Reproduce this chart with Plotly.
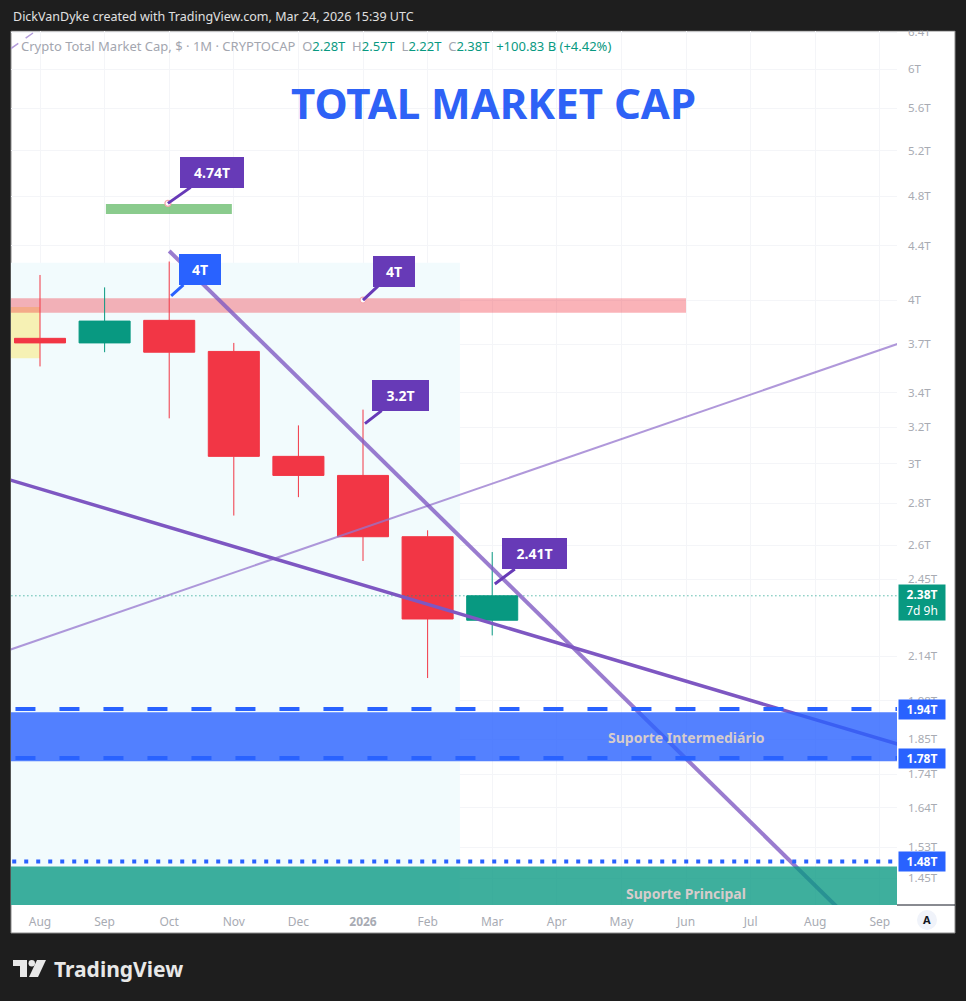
import math
import plotly.graph_objects as go

# monthly candles Aug 2025 .. Mar 2026, in trillions of USD
months = ['Aug', 'Sep', 'Oct', 'Nov', 'Dec', '2026', 'Feb', 'Mar', 'Apr', 'May', 'Jun', 'Jul', 'Aug', 'Sep']
opens = [3.74, 3.71, 3.86, 3.655, 3.04, 2.94, 2.64, 2.28]
highs = [4.18, 4.09, 4.28, 3.71, 3.21, 3.30, 2.67, 2.57]
lows = [3.56, 3.65, 3.25, 2.74, 2.83, 2.53, 2.06, 2.22]
closes = [3.71, 3.855, 3.65, 3.04, 2.94, 2.64, 2.285, 2.38]

price_ticks = [6.4, 6, 5.6, 5.2, 4.8, 4.4, 4, 3.7, 3.4, 3.2, 3, 2.8, 2.6, 2.45, 2.14, 1.98, 1.85, 1.74, 1.64, 1.53, 1.45]
price_labels = [f'{v:g}T' for v in price_ticks]

# trend lines drawn on the chart: (bar index, price)
steep_line_x = [2, 13]
steep_line_y = [4.36, 1.28]
rising_line_x = [-1, 14]
rising_line_y = [2.12, 3.81]
falling_line_x = [-1, 14]
falling_line_y = [2.97, 1.79]

# zones (bar index from/to, price from/to)
shade_zone = [-1, 6.5, 1.2, 4.27]
yellow_zone = [-1, 0, 3.612, 3.951]
resist_zone = [-1, 10, 3.911, 4.012]
ath_zone = [1.02, 2.97, 4.652, 4.734]
mid_support = [-1, 14, 1.78, 1.94]
mid_support_lines = [1.951, 1.79]
main_support = [-1, 14, 1.30, 1.48]
main_support_line = 1.493
last_price = 2.38

# callouts: (bar index, price, text, colour, box offset x/y, box width)
callouts = [
    (1.98, 4.74, '4.74T', '#673ab7', 44, -31, 52),
    (2.03, 4.03, '4T', '#2962ff', 29, -26, 30),
    (5.0, 4.0, '4T', '#673ab7', 31, -29, 30),
    (5.03, 3.22, '3.2T', '#673ab7', 36, -28, 45),
    (7.04, 2.43, '2.41T', '#673ab7', 40, -30, 53),
]
axis_tags = [(1.951, '1.94T'), (1.79, '1.78T'), (1.493, '1.48T')]

L = math.log10
W, H = 966, 1001
PL, PR, PT, PB = 11, 897, 31, 905


def px(x):
    return (x - PL) / (PR - PL)


def py(y):
    return (PB - y) / (PB - PT)


RED = '#f23645'
TEAL = '#089981'
DARK = '#1e1e1e'
FONT = 'Noto Sans'

fig = go.Figure()


def zone_bar(z, color):
    # rectangle below the candles, drawn as a floating bar
    fig.add_trace(go.Bar(x=[(z[0] + z[1]) / 2], width=[z[1] - z[0]], base=[z[2]], y=[z[3] - z[2]],
                         marker=dict(color=color, line=dict(width=0)), hoverinfo='skip', showlegend=False))


def zone_fill(z, color):
    # rectangle above the drawings
    fig.add_trace(go.Scatter(x=[z[0], z[1], z[1], z[0], z[0]], y=[z[2], z[2], z[3], z[3], z[2]],
                             mode='lines', fill='toself', fillcolor=color, line=dict(width=0),
                             hoverinfo='skip', showlegend=False))


def hline(v, color, width, dash, x0=-0.42, x1=14):
    fig.add_trace(go.Scatter(x=[x0, x1], y=[v, v], mode='lines', line=dict(color=color, width=width, dash=dash),
                             hoverinfo='skip', showlegend=False))


zone_bar(shade_zone, '#f2fbfd')
zone_bar(yellow_zone, '#f6f1b4')
zone_bar(resist_zone, 'rgba(242,54,69,0.38)')
zone_bar(ath_zone, 'rgba(76,175,80,0.65)')

fig.add_trace(go.Candlestick(
    x=list(range(len(opens))), open=opens, high=highs, low=lows, close=closes,
    increasing=dict(line=dict(color=TEAL, width=1), fillcolor=TEAL),
    decreasing=dict(line=dict(color=RED, width=1), fillcolor=RED),
    whiskerwidth=0, showlegend=False, hoverinfo='skip'))

hline(last_price, TEAL, 1, '1px,3px', x0=-1)
fig.add_trace(go.Scatter(x=rising_line_x, y=rising_line_y, mode='lines',
                         line=dict(color='rgba(149,117,205,0.75)', width=2), showlegend=False))
fig.add_trace(go.Scatter(x=falling_line_x, y=falling_line_y, mode='lines',
                         line=dict(color='#7e57c2', width=3.5), showlegend=False))
fig.add_trace(go.Scatter(x=steep_line_x, y=steep_line_y, mode='lines',
                         line=dict(color='rgba(126,87,194,0.78)', width=4), showlegend=False))
fig.add_trace(go.Scatter(x=[-0.45, 0.1], y=[6.22, 6.5], mode='lines',
                         line=dict(color='#b39ddb', width=1.5, dash='dash'), showlegend=False))
fig.add_trace(go.Scatter(x=[1.98, 5.0], y=[4.74, 4.0], mode='markers',
                         marker=dict(size=6, color='white', line=dict(color='#f4a6ad', width=1.2)),
                         showlegend=False))

zone_fill(mid_support, 'rgba(41,98,255,0.8)')
for v in mid_support_lines:
    hline(v, '#2962ff', 4, '20px,24px', x0=-0.38)
zone_fill(main_support, 'rgba(8,153,129,0.78)')
hline(main_support_line, '#2962ff', 4, '4px,8px', x0=-0.43)

shapes = []
# frame
shapes.append(dict(type='rect', xref='paper', yref='paper', x0=px(11), x1=px(955), y0=py(933), y1=py(31),
                   fillcolor='white', line=dict(color='#8a8a8a', width=1), layer='below'))
shapes.append(dict(type='line', xref='paper', yref='paper', x0=px(897), x1=px(955), y0=0, y1=0,
                   line=dict(color='#131722', width=1)))
# mask above the frame (clips the top tick label)
shapes.append(dict(type='rect', xref='paper', yref='paper', x0=px(0), x1=px(966), y0=py(30.5), y1=py(0),
                   fillcolor=DARK, line=dict(width=0), layer='above'))
# "A" button
shapes.append(dict(type='circle', xref='paper', yref='paper', x0=px(917), x1=px(937), y0=py(930), y1=py(910),
                   fillcolor='#f0f3fa', line=dict(width=0), layer='above'))
# TradingView logo
shapes.append(dict(type='rect', xref='paper', yref='paper', x0=px(13), x1=px(27), y0=py(966), y1=py(960),
                   fillcolor='#e8e8e8', line=dict(width=0)))
shapes.append(dict(type='rect', xref='paper', yref='paper', x0=px(20), x1=px(27), y0=py(977), y1=py(960),
                   fillcolor='#e8e8e8', line=dict(width=0)))
shapes.append(dict(type='circle', xref='paper', yref='paper', x0=px(28.5), x1=px(35), y0=py(966.5), y1=py(960),
                   fillcolor='#e8e8e8', line=dict(width=0)))
shapes.append(dict(type='path', xref='paper', yref='paper',
                   path=f'M {px(37)} {py(960)} L {px(46)} {py(960)} L {px(38)} {py(977)} L {px(29)} {py(977)} Z',
                   fillcolor='#e8e8e8', line=dict(width=0)))

annotations = []
annotations.append(dict(xref='paper', yref='paper', x=px(11), y=py(16), xanchor='left', yanchor='middle',
                        text='DickVanDyke created with TradingView.com, Mar 24, 2026 15:39 UTC', showarrow=False,
                        font=dict(family=FONT, size=12.5, color='#e0e0e0')))
g = '#a3a6af'
legend = (f'<span style="color:{g}">Crypto Total Market Cap, $ · 1M · CRYPTOCAP  O</span>'
          f'<span style="color:{TEAL}">{opens[-1]:.2f}T</span>'
          f'<span style="color:{g}">  H</span><span style="color:{TEAL}">{highs[-1]:.2f}T</span>'
          f'<span style="color:{g}">  L</span><span style="color:{TEAL}">{lows[-1]:.2f}T</span>'
          f'<span style="color:{g}">  C</span><span style="color:{TEAL}">{closes[-1]:.2f}T</span>'
          f'<span style="color:{TEAL}">  +100.83 B (+4.42%)</span>')
annotations.append(dict(xref='paper', yref='paper', x=px(19), y=py(46), xanchor='left', yanchor='middle',
                        text=legend, showarrow=False, font=dict(family=FONT, size=13)))
annotations.append(dict(xref='paper', yref='paper', x=px(493), y=py(102), xanchor='center', yanchor='middle',
                        text='<b>TOTAL MARKET CAP</b>', showarrow=False,
                        font=dict(family=FONT, size=42, color='#2e62f6')))
annotations.append(dict(xref='x', yref='y', x=10, y=L(1.857), text='<b>Suporte Intermediário</b>', showarrow=False,
                        font=dict(family=FONT, size=14, color='#d6cccc')))
annotations.append(dict(xref='x', yref='y', x=10, y=L(1.412), text='<b>Suporte Principal</b>', showarrow=False,
                        font=dict(family=FONT, size=14, color='#d6cccc')))
for x, y, t, c, ax, ay, w in callouts:
    annotations.append(dict(xref='x', yref='y', x=x, y=L(y), text=f'<b>{t}</b>', showarrow=True,
                            ax=ax, ay=ay, arrowhead=0, arrowwidth=3, arrowcolor=c, standoff=0,
                            bgcolor=c, bordercolor=c, borderwidth=1, borderpad=5, width=w,
                            font=dict(family=FONT, size=14, color='white')))
for v, t in axis_tags:
    annotations.append(dict(xref='paper', yref='y', x=px(898), y=L(v), xanchor='left', yanchor='middle',
                            text=f'<b>{t}</b>', showarrow=False, bgcolor='#2962ff', width=44, borderpad=1,
                            font=dict(family=FONT, size=12, color='white')))
annotations.append(dict(xref='paper', yref='y', x=px(898), y=L(last_price), xanchor='left', yanchor='middle',
                        yshift=-7, text=f'<b>{last_price:.2f}T</b><br>7d 9h', showarrow=False, bgcolor=TEAL,
                        width=44, borderpad=1, font=dict(family=FONT, size=12, color='white')))
annotations.append(dict(xref='paper', yref='paper', x=px(927), y=py(920), xanchor='center', yanchor='middle',
                        text='<b>A</b>', showarrow=False, font=dict(family=FONT, size=11, color='#131722')))
annotations.append(dict(xref='paper', yref='paper', x=px(52), y=py(969), xanchor='left', yanchor='middle',
                        text='<b>TradingView</b>', showarrow=False,
                        font=dict(family=FONT, size=21, color='#e8e8e8')))

tick_text = [f'<b>{m}</b>' if m == '2026' else m for m in months]

fig.update_layout(
    width=W, height=H,
    margin=dict(l=PL, r=W - PR, t=PT, b=H - PB),
    paper_bgcolor=DARK, plot_bgcolor='white',
    shapes=shapes, annotations=annotations,
    font=dict(family=FONT),
    boxgap=0.21, boxgroupgap=0, barmode='overlay',
    xaxis=dict(range=[-0.449, 13.266], tickvals=list(range(len(months))), ticktext=tick_text,
               showgrid=True, gridcolor='#f4f5f8', zeroline=False, showline=False,
               tickfont=dict(size=12, color='#a8abb3'), ticks='', rangeslider=dict(visible=False),
               ticklabelstandoff=8, fixedrange=True),
    yaxis=dict(type='log', side='right', range=[L(1.383), L(6.415)], tickvals=price_ticks,
               ticktext=price_labels, showgrid=True, gridcolor='#f4f5f8', zeroline=False,
               showline=False, ticks='', tickfont=dict(size=11.5, color='#a8abb3'), ticklabelstandoff=10),
    showlegend=False,
)

fig.write_html('out.html', config={'displayModeBar': False},
               post_script="document.body.style.margin='0';document.body.style.overflow='hidden';")
